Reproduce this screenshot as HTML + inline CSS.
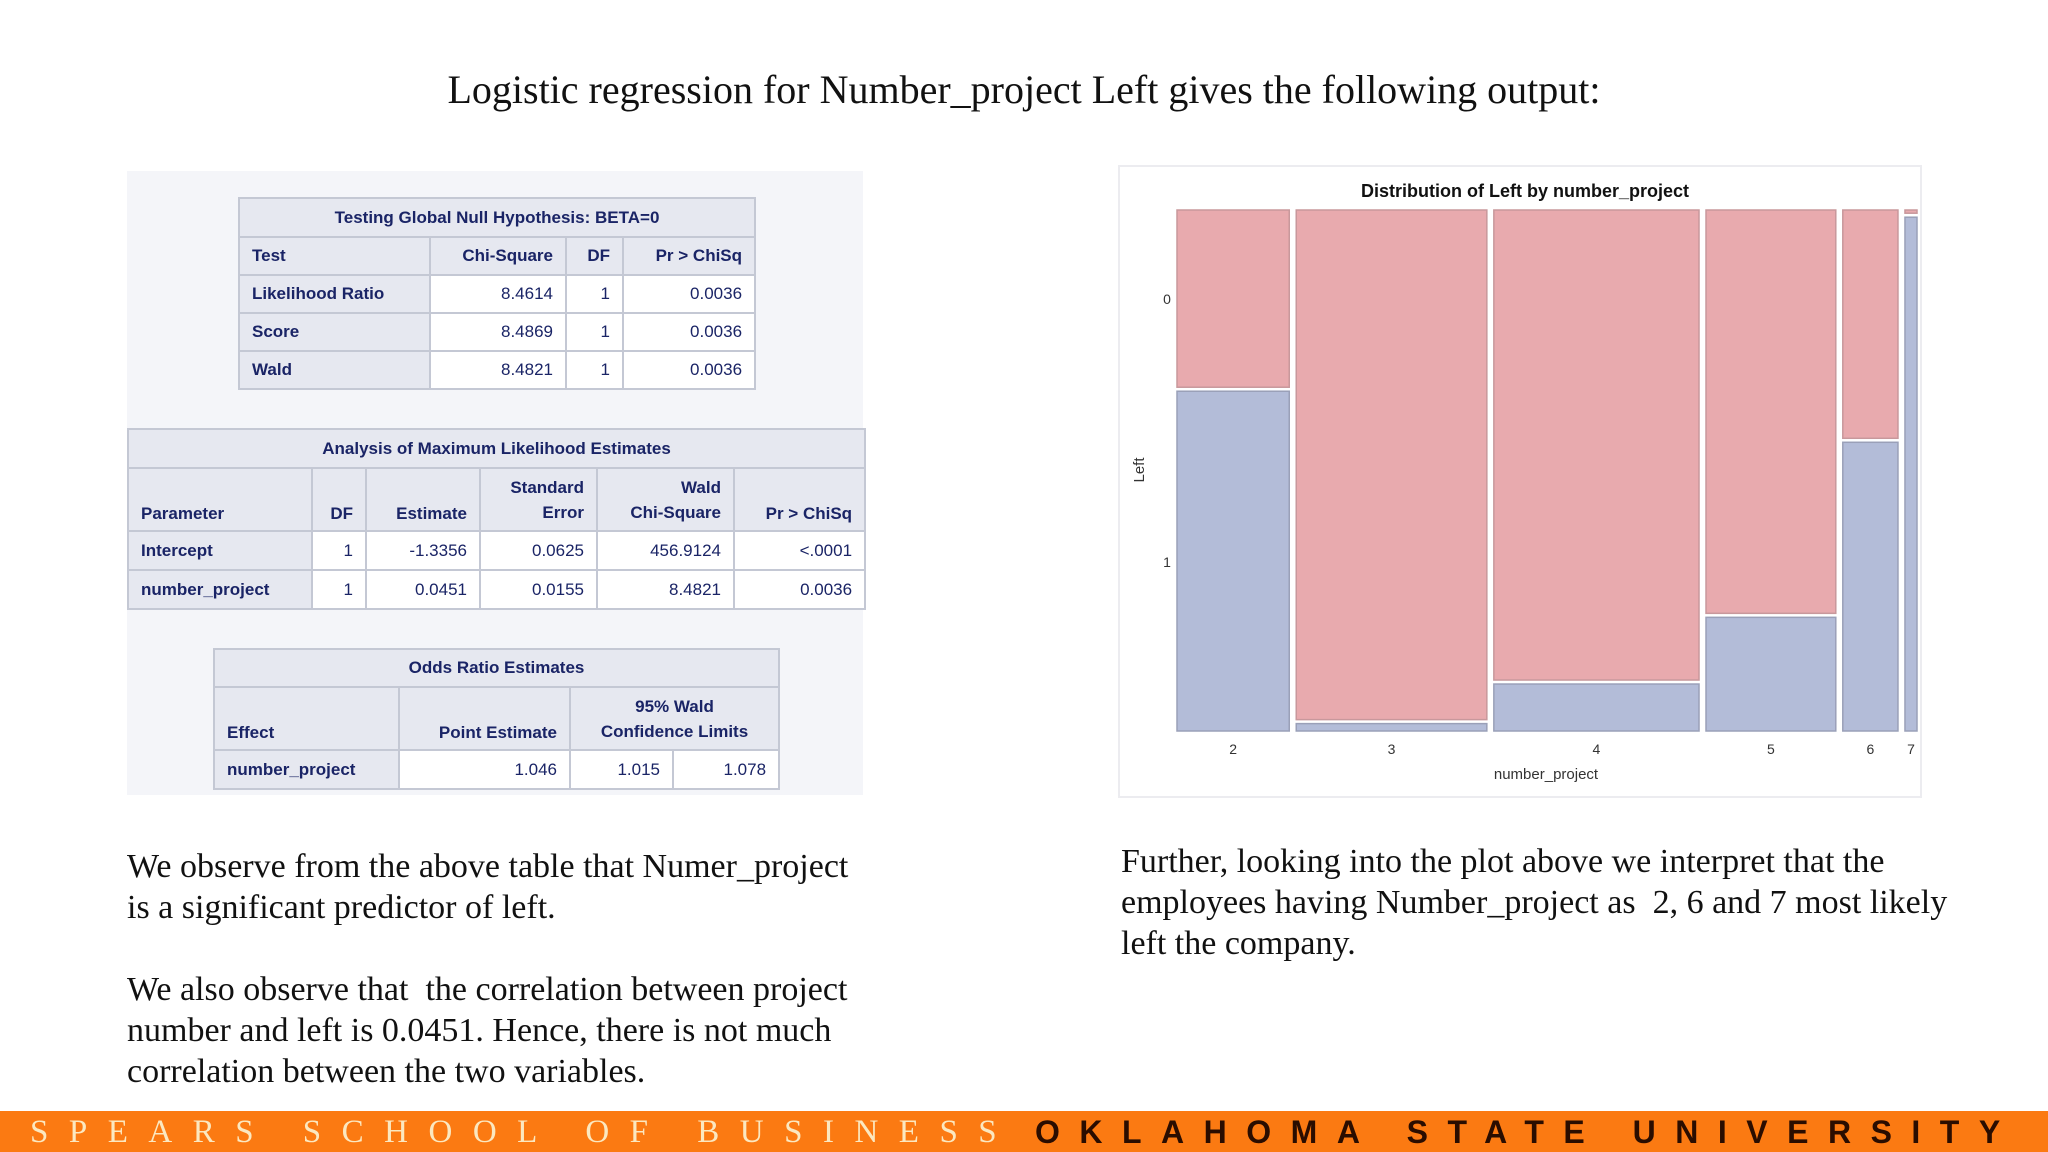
<!DOCTYPE html>
<html><head><meta charset="utf-8">
<style>
body{margin:0;width:2048px;height:1152px;position:relative;background:#fff;overflow:hidden;font-family:"Liberation Serif",serif;}
.abs{position:absolute;}
.para{position:absolute;font-size:34px;line-height:41px;color:#111;font-family:"Liberation Serif",serif;white-space:nowrap;}
table.sas{position:absolute;border-collapse:collapse;font-family:"Liberation Sans",sans-serif;font-size:17px;color:#1a2466;table-layout:fixed;}
table.sas td{border:2px solid #c4c8d4;padding:0 12px;white-space:nowrap;}
table.sas td.h{background:#e6e8f0;font-weight:bold;}
table.sas td.n{background:#fff;text-align:right;}
table.sas td.t{background:#e6e8f0;font-weight:bold;text-align:center;}
</style></head><body>
<div class="abs" style="left:0;width:2048px;top:66px;text-align:center;font-size:40px;color:#111;">Logistic regression for Number_project Left gives the following output:</div>

<div class="abs" style="left:127px;top:171px;width:736px;height:624px;background:#f4f5f9;"></div>

<table class="sas" style="left:238px;top:197px;width:516px;">
<colgroup><col style="width:191px"><col style="width:136px"><col style="width:57px"><col style="width:132px"></colgroup>
<tr style="height:39px"><td class="t" colspan="4">Testing Global Null Hypothesis: BETA=0</td></tr>
<tr style="height:38px"><td class="h">Test</td><td class="h" style="text-align:right">Chi-Square</td><td class="h" style="text-align:right">DF</td><td class="h" style="text-align:right">Pr &gt; ChiSq</td></tr>
<tr style="height:38px"><td class="h">Likelihood Ratio</td><td class="n">8.4614</td><td class="n">1</td><td class="n">0.0036</td></tr>
<tr style="height:38px"><td class="h">Score</td><td class="n">8.4869</td><td class="n">1</td><td class="n">0.0036</td></tr>
<tr style="height:38px"><td class="h">Wald</td><td class="n">8.4821</td><td class="n">1</td><td class="n">0.0036</td></tr>
</table>

<table class="sas" style="left:127px;top:428px;width:737px;">
<colgroup><col style="width:184px"><col style="width:54px"><col style="width:114px"><col style="width:117px"><col style="width:137px"><col style="width:131px"></colgroup>
<tr style="height:39px"><td class="t" colspan="6">Analysis of Maximum Likelihood Estimates</td></tr>
<tr style="height:63px"><td class="h" style="vertical-align:bottom;padding-bottom:6px">Parameter</td><td class="h" style="vertical-align:bottom;padding-bottom:6px;text-align:right">DF</td><td class="h" style="vertical-align:bottom;padding-bottom:6px;text-align:right">Estimate</td><td class="h" style="text-align:right;line-height:25px">Standard<br>Error</td><td class="h" style="text-align:right;line-height:25px">Wald<br>Chi-Square</td><td class="h" style="vertical-align:bottom;padding-bottom:6px;text-align:right">Pr &gt; ChiSq</td></tr>
<tr style="height:39px"><td class="h">Intercept</td><td class="n">1</td><td class="n">-1.3356</td><td class="n">0.0625</td><td class="n">456.9124</td><td class="n">&lt;.0001</td></tr>
<tr style="height:39px"><td class="h">number_project</td><td class="n">1</td><td class="n">0.0451</td><td class="n">0.0155</td><td class="n">8.4821</td><td class="n">0.0036</td></tr>
</table>

<table class="sas" style="left:213px;top:648px;width:565px;">
<colgroup><col style="width:185px"><col style="width:171px"><col style="width:103px"><col style="width:106px"></colgroup>
<tr style="height:38px"><td class="t" colspan="4">Odds Ratio Estimates</td></tr>
<tr style="height:63px"><td class="h" style="vertical-align:bottom;padding-bottom:6px">Effect</td><td class="h" style="vertical-align:bottom;padding-bottom:6px;text-align:right">Point Estimate</td><td class="h" colspan="2" style="text-align:center;line-height:25px">95% Wald<br>Confidence Limits</td></tr>
<tr style="height:39px"><td class="h">number_project</td><td class="n">1.046</td><td class="n">1.015</td><td class="n">1.078</td></tr>
</table>

<div class="abs" style="left:1118px;top:165px;width:804px;height:633px;background:#fff;border:2px solid #ececf0;box-sizing:border-box;"></div>
<svg class="abs" style="left:0;top:0" width="2048" height="1152">
<g id="chart"></g>
</svg>
<script>
var categories = ["2","3","4","5","6","7"];
var counts = [2388,4055,4365,2761,1174,256];
var leftFraction = [0.656,0.018,0.094,0.222,0.558,0.99];
var yTicks = ["0","1"];
var NS="http://www.w3.org/2000/svg";
var g=document.getElementById('chart');
var X0=1177,X1=1917,Y0=210,Y1=731,GAP=7,SG=4;
var total=counts.reduce(function(a,b){return a+b},0);
var avail=(X1-X0)-GAP*(counts.length-1);
function xw(c){return c/total*avail;}
function yv(f){return Y1-f*(Y1-Y0);}
function mk(tag,attrs){var e=document.createElementNS(NS,tag);for(var k in attrs)e.setAttribute(k,attrs[k]);g.appendChild(e);return e;}
var t=mk('text',{x:1525,y:197,'text-anchor':'middle','font-family':'Liberation Sans, sans-serif','font-size':18,'font-weight':'bold',fill:'#111'});
t.textContent='Distribution of Left by number_project';


var xPos=X0;
for(var i=0;i<counts.length;i++){
  var w=xw(counts[i]);
  var ys=yv(leftFraction[i]);
  var tileTop=Y0, pinkBottom=ys-SG/2, blueTop=ys+SG/2;
  if(pinkBottom>tileTop+1){
    var r=mk('rect',{x:xPos,y:tileTop,width:w,height:pinkBottom-tileTop,fill:'#e8aaae',stroke:'#c8989c','stroke-width':1.5});
    
    
  }
  var bt=Math.max(blueTop,Y0);
  var r2=mk('rect',{x:xPos,y:bt,width:w,height:Y1-bt,fill:'#b3bcd8',stroke:'#9aa0b8','stroke-width':1.5});
  
  
  var tx=mk('text',{x:xPos+w/2,y:754,'text-anchor':'middle','font-family':'Liberation Sans, sans-serif','font-size':14,fill:'#333'});
  tx.textContent=categories[i];
  
  
  xPos+=w+GAP;
}
for(var j=0;j<yTicks.length;j++){
  var yt=mk('text',{x:1167,y:(j==0?304:567),'text-anchor':'middle','font-family':'Liberation Sans, sans-serif','font-size':14,fill:'#333'});
  yt.textContent=yTicks[j];
  
  
}
var xl=mk('text',{x:1546,y:779,'text-anchor':'middle','font-family':'Liberation Sans, sans-serif','font-size':15,fill:'#333'});
xl.textContent='number_project';


var yl=mk('text',{x:1144,y:470,'text-anchor':'middle','font-family':'Liberation Sans, sans-serif','font-size':15,fill:'#333',transform:'rotate(-90 1144 470)'});
yl.textContent='Left';


</script>

<div class="para" style="left:127px;top:846px;">We observe from the above table that Numer_project<br>is a significant predictor of left.</div>
<div class="para" style="left:127px;top:969px;">We also observe that &nbsp;the correlation between project<br>number and left is 0.0451. Hence, there is not much<br>correlation between the two variables.</div>
<div class="para" style="left:1121px;top:841px;">Further, looking into the plot above we interpret that the<br>employees having Number_project as &nbsp;2, 6 and 7 most likely<br>left the company.</div>

<div class="abs" style="left:0;top:1111px;width:2048px;height:41px;background:#fb7a12;">
<span class="abs" style="left:30px;top:3px;font-family:'Liberation Serif',serif;font-size:33px;letter-spacing:20.5px;color:#fbe8c0;white-space:nowrap;">SPEARS SCHOOL OF BUSINESS</span>
<span class="abs" style="left:1035px;top:3px;font-family:'Liberation Sans',sans-serif;font-size:32px;font-weight:bold;letter-spacing:19.5px;color:#2a0d00;white-space:nowrap;">OKLAHOMA STATE UNIVERSITY</span>
</div>
</body></html>
